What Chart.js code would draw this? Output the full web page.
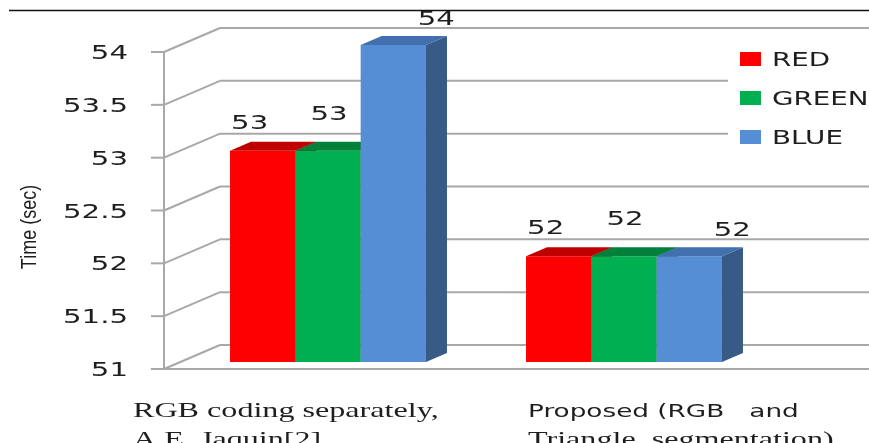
<!DOCTYPE html>
<html>
<head>
<meta charset="utf-8">
<script src="https://cdn.jsdelivr.net/npm/chart.js@4.4.1/dist/chart.umd.min.js"></script>
<style>
  html, body { margin: 0; padding: 0; background: #fff; }
  canvas { display: block; }
</style>
</head>
<body>
<canvas id="chart" width="869" height="443"></canvas>
<script>
// values
const categories = [
  ['RGB coding separately,', 'A.E. Jaquin[2]'],
  ['Proposed (RGB   and', 'Triangle  segmentation)'],
]
const redTimes = [53, 52]
const greenTimes = [53, 52]
const blueTimes = [54, 52]
const yTicks = [51, 51.5, 52, 52.5, 53, 53.5, 54]
const yTickLabels = ['51', '51.5', '52', '52.5', '53', '53.5', '54']
const yTitle = 'Time (sec)'

// fake-3d geometry (pixels)
const WALL = { dx: 56, dy: -24 }
const BAR_SHIFT = { dx: 16, dy: -7 }
const BAR_DEPTH = { dx: 21, dy: -9 }
const STRETCH = 1.46
const GRID = '#a8a8a8'
const INK = '#1e1e1e'

const SANS = 'DejaVu Sans'
const SERIF = 'Liberation Serif'
const catFonts = [
  [`22px "${SERIF}"`, `22px "${SERIF}"`],
  [`18px "${SANS}"`, `22px "${SERIF}"`],
]
const catLeft = [-179, -80]

function wideText(ctx, text, x, y, font, align, color, sx = STRETCH) {
  ctx.save()
  ctx.font = font
  ctx.fillStyle = color
  ctx.textAlign = 'left'
  ctx.textBaseline = 'alphabetic'
  const w = ctx.measureText(text).width * sx
  const left = align === 'center' ? x - w / 2 : align === 'right' ? x - w : x
  ctx.translate(left, y)
  ctx.scale(sx, 1)
  ctx.fillText(text, 0, 0)
  ctx.restore()
}

function line(ctx, x0, y0, x1, y1) {
  ctx.beginPath()
  ctx.moveTo(x0, y0)
  ctx.lineTo(x1, y1)
  ctx.stroke()
}

function quad(ctx, pts, color) {
  ctx.fillStyle = color
  ctx.beginPath()
  ctx.moveTo(pts[0][0], pts[0][1])
  for (let i = 1; i < pts.length; i++) ctx.lineTo(pts[i][0], pts[i][1])
  ctx.closePath()
  ctx.fill()
}

const box3d = {
  id: 'box3d',
  beforeDatasetsDraw(chart) {
    const { ctx, chartArea, scales } = chart
    const { left, bottom } = chartArea
    const W = chart.width
    const y = scales.y

    ctx.save()
    // page rule at the top
    ctx.strokeStyle = '#111'
    ctx.lineWidth = 1.5
    line(ctx, 9, 10.5, W, 10.5)

    // back wall and side wall grid
    ctx.strokeStyle = GRID
    ctx.lineWidth = 2
    yTicks.forEach(v => {
      const py = y.getPixelForValue(v)
      line(ctx, left, py, left + WALL.dx, py + WALL.dy)
      line(ctx, left + WALL.dx, py + WALL.dy, W, py + WALL.dy)
      line(ctx, left - 13, py, left, py)
    })
    // front floor edge and value axis
    line(ctx, left - 13, bottom, W, bottom)
    line(ctx, left, y.getPixelForValue(yTicks[yTicks.length - 1]), left, bottom)

    // tick labels
    yTicks.forEach((v, i) => {
      const py = y.getPixelForValue(v)
      wideText(ctx, yTickLabels[i], 128, py + 7, `20px "${SANS}"`, 'right', INK)
    })

    // axis title
    ctx.save()
    ctx.translate(36, 227)
    ctx.rotate(-Math.PI / 2)
    ctx.scale(1, 1.25)
    ctx.font = '18px "Liberation Sans"'
    ctx.fillStyle = INK
    ctx.textAlign = 'center'
    ctx.textBaseline = 'alphabetic'
    ctx.fillText(yTitle, 0, 0)
    ctx.restore()

    // category labels
    categories.forEach((lines, i) => {
      const px = scales.x.getPixelForValue(i) + catLeft[i]
      lines.forEach((t, k) => {
        wideText(ctx, t, px, 417 + k * 29, catFonts[i][k], 'left', INK)
      })
    })

    // bars, left to right, each with its top and side face
    ctx.translate(BAR_SHIFT.dx, BAR_SHIFT.dy)
    chart.data.datasets.forEach((ds, i) => {
      const meta = chart.getDatasetMeta(i)
      meta.data.forEach(bar => {
        const { x, y: top, width, base } = bar.getProps(['x', 'y', 'width', 'base'], true)
        const x0 = x - width / 2
        const x1 = x + width / 2
        bar.draw(ctx)
        quad(ctx, [[x1, top], [x1 + BAR_DEPTH.dx, top + BAR_DEPTH.dy],
          [x1 + BAR_DEPTH.dx, base + BAR_DEPTH.dy], [x1, base]], ds.sideColor)
        quad(ctx, [[x0, top], [x0 + BAR_DEPTH.dx, top + BAR_DEPTH.dy],
          [x1 + BAR_DEPTH.dx, top + BAR_DEPTH.dy], [x1, top]], ds.topColor)
      })
    })
    ctx.restore()
    return false
  },
  afterDraw(chart) {
    const { ctx } = chart
    // value labels
    chart.data.datasets.forEach((ds, i) => {
      chart.getDatasetMeta(i).data.forEach((bar, j) => {
        const cx = bar.x + BAR_SHIFT.dx + ds.labelNudge[0]
        const cy = bar.y + BAR_SHIFT.dy + ds.labelNudge[1]
        wideText(ctx, String(ds.data[j]), cx, cy + 7, `20px "${SANS}"`, 'center', INK)
      })
    })

    // legend on a white panel over the back wall
    ctx.save()
    ctx.fillStyle = '#fff'
    ctx.fillRect(728, 42, chart.width - 728, 130)
    chart.data.datasets.forEach((ds, i) => {
      const cy = 59 + i * 39
      ctx.fillStyle = ds.backgroundColor
      ctx.fillRect(740, cy - 7, 21, 14)
      wideText(ctx, ds.label, 772, cy + 7, `19px "${SANS}"`, 'left', INK)
    })
    ctx.restore()
  },
}

new Chart(document.getElementById('chart'), {
  type: 'bar',
  data: {
    labels: categories.map(c => c.join(' ')),
    datasets: [
      { label: 'RED', data: redTimes, backgroundColor: '#ff0000', topColor: '#c00000', sideColor: '#a00000', labelNudge: [-13, -29] },
      { label: 'GREEN', data: greenTimes, backgroundColor: '#00b050', topColor: '#00803a', sideColor: '#006a30', labelNudge: [1, -38] },
      { label: 'BLUE', data: blueTimes, backgroundColor: '#558ed5', topColor: '#426fae', sideColor: '#375a87', labelNudge: [43, -27] },
    ],
  },
  options: {
    responsive: false,
    animation: false,
    layout: { padding: { left: 164, right: 113, top: 52, bottom: 74 } },
    datasets: { bar: { categoryPercentage: 0.662, barPercentage: 1, base: yTicks[0] } },
    plugins: { legend: { display: false }, tooltip: { enabled: false } },
    scales: {
      x: { display: false, offset: true },
      y: { display: false, min: 51, max: 54 },
    },
  },
  plugins: [box3d],
})
</script>
</body>
</html>
